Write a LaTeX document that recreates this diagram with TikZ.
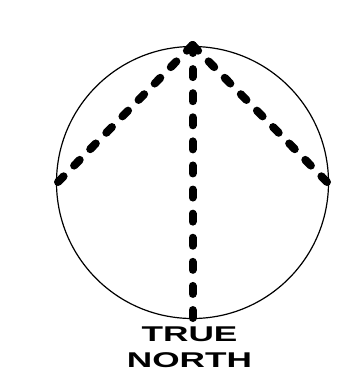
\documentclass[tikz,border=0pt]{standalone}
\usepackage{fontspec}
\newfontfamily\labelfont{Liberation Sans}
\usepackage{tikz}
\usetikzlibrary{positioning}

\tikzset{
	bearing/.style={line width=6pt, line cap=round, dash pattern=on 6pt off #1},
	rim/.style={line width=0.9pt},
	caption/.style={align=center, inner sep=0pt, xscale=1.65,
		font=\labelfont\bfseries\fontsize{16}{19.5}\selectfont}
}

\begin{document}
\begin{tikzpicture}[x=0.75pt, y=-0.75pt]
		\useasboundingbox (0,0) rectangle (361,382);
		% Paths, nodes and wires:
		\coordinate (C) at (192.5, 182.5);
		\coordinate (apex) at (192.5, 45);
		\coordinate (west) at (58, 182);
		\coordinate (east) at (327, 182);
		\coordinate (south) at (192.5, 318);
		\draw[rim] (C) circle[radius=136];
		\draw[bearing=11.25pt] (apex) -- (west);
		\draw[bearing=11.25pt] (apex) -- (east);
		\draw[bearing=12.07pt] (apex) -- (south);
		\node[caption](TN) at (189.5, 347){TRUE\\NORTH};
	\end{tikzpicture}
\end{document}
